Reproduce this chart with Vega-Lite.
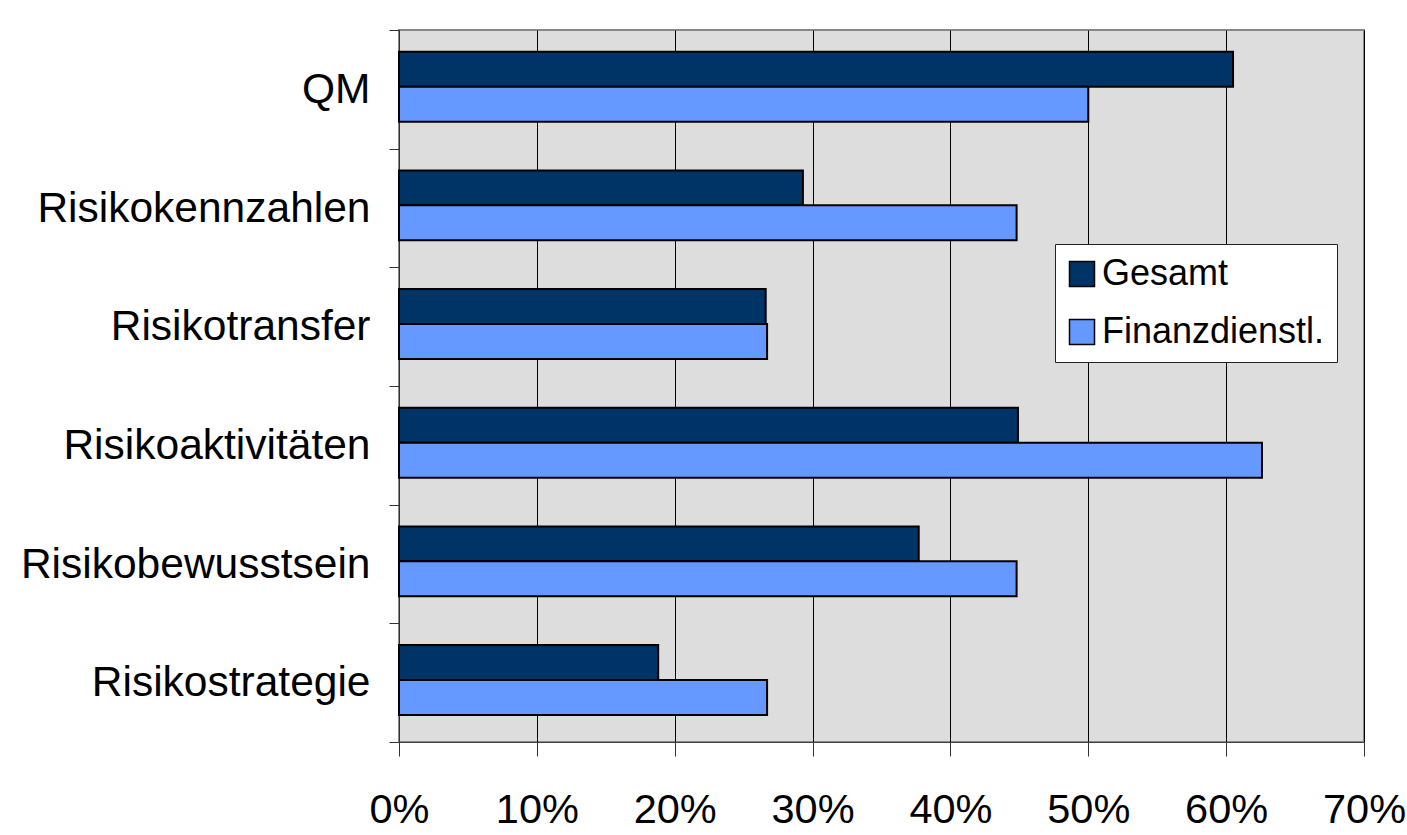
{
  "$schema": "https://vega.github.io/schema/vega-lite/v6.json",
  "width": 965,
  "height": 712,
  "autosize": {"type": "none"},
  "padding": {"left": 399, "top": 30, "right": 43, "bottom": 93},
  "background": "white",
  "data": {
    "values": [
      {"Bereich": "QM", "Gruppe": "Gesamt", "Anteil": 0.605},
      {"Bereich": "QM", "Gruppe": "Finanzdienstl.", "Anteil": 0.500},
      {"Bereich": "Risikokennzahlen", "Gruppe": "Gesamt", "Anteil": 0.293},
      {"Bereich": "Risikokennzahlen", "Gruppe": "Finanzdienstl.", "Anteil": 0.448},
      {"Bereich": "Risikotransfer", "Gruppe": "Gesamt", "Anteil": 0.266},
      {"Bereich": "Risikotransfer", "Gruppe": "Finanzdienstl.", "Anteil": 0.267},
      {"Bereich": "Risikoaktivitäten", "Gruppe": "Gesamt", "Anteil": 0.449},
      {"Bereich": "Risikoaktivitäten", "Gruppe": "Finanzdienstl.", "Anteil": 0.626},
      {"Bereich": "Risikobewusstsein", "Gruppe": "Gesamt", "Anteil": 0.377},
      {"Bereich": "Risikobewusstsein", "Gruppe": "Finanzdienstl.", "Anteil": 0.448},
      {"Bereich": "Risikostrategie", "Gruppe": "Gesamt", "Anteil": 0.188},
      {"Bereich": "Risikostrategie", "Gruppe": "Finanzdienstl.", "Anteil": 0.267}
    ]
  },
  "mark": {"type": "bar", "stroke": "black", "strokeWidth": 2},
  "encoding": {
    "y": {
      "field": "Bereich",
      "type": "nominal",
      "sort": ["QM", "Risikokennzahlen", "Risikotransfer", "Risikoaktivitäten", "Risikobewusstsein", "Risikostrategie"],
      "scale": {"paddingInner": 0, "paddingOuter": 0},
      "axis": {
        "title": null,
        "grid": false,
        "tickBand": "extent",
        "tickSize": 10,
        "tickColor": "#333333",
        "domainColor": "#333333",
        "labelFont": "Liberation Sans",
        "labelFontSize": 42.5,
        "labelColor": "black",
        "labelPadding": 19,
        "labelLimit": 0
      }
    },
    "yOffset": {
      "field": "Gruppe",
      "sort": ["Gesamt", "Finanzdienstl."],
      "scale": {"paddingInner": 0, "paddingOuter": 0.696, "align": 0.446}
    },
    "x": {
      "field": "Anteil",
      "type": "quantitative",
      "scale": {"domain": [0, 0.7], "nice": false},
      "axis": {
        "title": null,
        "values": [0, 0.1, 0.2, 0.3, 0.4, 0.5, 0.6, 0.7],
        "format": ".0%",
        "grid": true,
        "gridColor": "#000000",
        "gridWidth": 1,
        "gridOpacity": 1,
        "tickSize": 14,
        "tickColor": "#333333",
        "domainColor": "#444444",
        "labelFont": "Liberation Sans",
        "labelFontSize": 41.5,
        "labelColor": "black",
        "labelPadding": 33,
        "labelFlush": false,
        "labelOverlap": false
      }
    },
    "color": {
      "field": "Gruppe",
      "type": "nominal",
      "sort": ["Gesamt", "Finanzdienstl."],
      "scale": {"domain": ["Gesamt", "Finanzdienstl."], "range": ["#003366", "#6699FF"]},
      "legend": {
        "orient": "none",
        "legendX": 656,
        "legendY": 214,
        "title": null,
        "fillColor": "white",
        "strokeColor": "#222222",
        "padding": 12,
        "symbolType": "square",
        "symbolSize": 625,
        "symbolOffset": -3,
        "symbolStrokeColor": "black",
        "symbolStrokeWidth": 1.5,
        "symbolOpacity": 1,
        "labelFont": "Liberation Sans",
        "labelFontSize": 36,
        "labelColor": "black",
        "labelOffset": 2,
        "labelLimit": 0,
        "rowPadding": 22
      }
    }
  },
  "config": {
    "view": {"fill": "#DDDDDD", "stroke": "#888888", "strokeWidth": 2}
  }
}
